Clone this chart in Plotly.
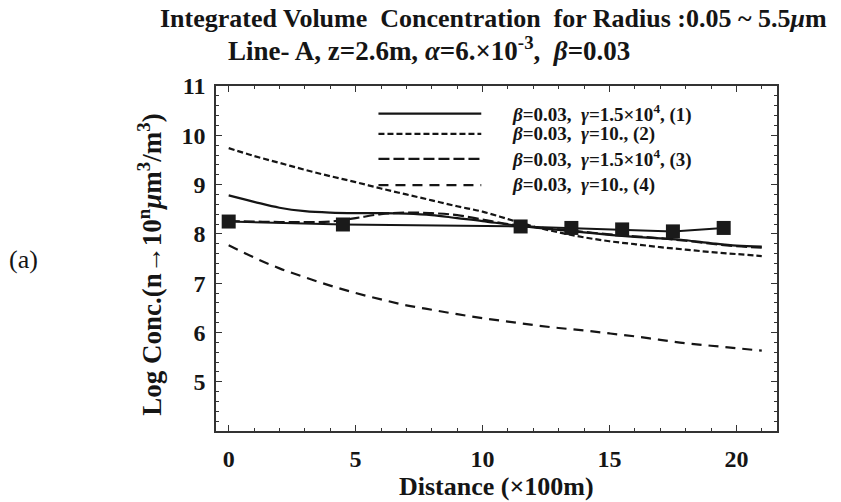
import plotly.graph_objects as go

# ---- data ----
distance = [0, 1, 2, 3, 4, 5, 6, 7, 8, 9, 10, 11, 12, 13, 14, 15, 16, 17, 18, 19, 20, 21]
curve1 = [8.78, 8.65, 8.53, 8.46, 8.43, 8.42, 8.42, 8.41, 8.38, 8.32, 8.26, 8.19,
          8.13, 8.08, 8.03, 7.98, 7.94, 7.91, 7.87, 7.81, 7.76, 7.74]
curve2 = [9.74, 9.58, 9.44, 9.30, 9.17, 9.05, 8.92, 8.80, 8.68, 8.56, 8.45, 8.30,
          8.15, 8.03, 7.93, 7.85, 7.79, 7.73, 7.68, 7.63, 7.59, 7.55]
curve3 = [8.26, 8.25, 8.24, 8.24, 8.25, 8.32, 8.40, 8.43, 8.42, 8.38, 8.29, 8.20,
          8.14, 8.09, 8.04, 7.99, 7.95, 7.91, 7.86, 7.80, 7.75, 7.72]
curve4 = [7.77, 7.52, 7.30, 7.12, 6.95, 6.80, 6.67, 6.55, 6.46, 6.37, 6.29, 6.22,
          6.15, 6.09, 6.04, 5.98, 5.92, 5.85, 5.78, 5.73, 5.68, 5.63]
meas_x = [0, 4.5, 11.5, 13.5, 15.5, 17.5, 19.5]
meas_y = [8.25, 8.19, 8.15, 8.12, 8.09, 8.05, 8.12]

legend_labels = [
    "<i>β</i>=0.03,  <i>γ</i>=1.5×10<sup>4</sup>, (1)",
    "<i>β</i>=0.03,  <i>γ</i>=10., (2)",
    "<i>β</i>=0.03,  <i>γ</i>=1.5×10<sup>4</sup>, (3)",
    "<i>β</i>=0.03,  <i>γ</i>=10., (4)",
]
dashes = ["solid", "6px,3px", "11px,4px", "10px,7px"]
x_ticks = [0, 5, 10, 15, 20]
y_ticks = [5, 6, 7, 8, 9, 10, 11]

FONT = "Liberation Serif"
INK = "#151515"

fig = go.Figure()
for ys, d in zip([curve1, curve2, curve3, curve4], dashes):
    fig.add_trace(go.Scatter(x=distance, y=ys, mode="lines",
                             line=dict(color=INK, width=2.2, dash=d, shape="spline"),
                             showlegend=False, hoverinfo="skip"))
fig.add_trace(go.Scatter(x=meas_x, y=meas_y, mode="lines+markers",
                         line=dict(color=INK, width=2),
                         marker=dict(symbol="square", size=14, color="#1a1a1a"),
                         showlegend=False, hoverinfo="skip"))

# custom legend (long line samples as in the original)
leg_rows = [10.44, 10.03, 9.52, 8.99]
for lab, d, yr in zip(legend_labels, dashes, leg_rows):
    fig.add_shape(type="line", xref="x", yref="y", x0=5.9, x1=9.95, y0=yr, y1=yr,
                  line=dict(color=INK, width=2.2, dash=d))
    fig.add_annotation(xref="x", yref="y", x=11.1, y=yr, text="<b>" + lab + "</b>",
                       showarrow=False, xanchor="left", yanchor="middle",
                       font=dict(family=FONT, size=19, color=INK))

axis_common = dict(showline=True, linecolor="#333", linewidth=1.5, mirror="allticks",
                   ticks="inside", ticklen=6, tickwidth=1.2, tickcolor="#333",
                   showgrid=False, zeroline=False,
                   tickfont=dict(family=FONT, size=24, color=INK, weight="bold"))
fig.update_xaxes(range=[-0.5, 21.6], tickvals=x_ticks, ticklabelstandoff=5,
                 minor=dict(ticks="inside", dtick=1, tick0=0, ticklen=3, tickcolor="#333"),
                 **axis_common)
fig.update_yaxes(range=[4, 11], tickvals=y_ticks, ticklabelstandoff=4,
                 minor=dict(ticks="inside", dtick=0.2, tick0=4, ticklen=3, tickcolor="#333"),
                 **axis_common)

anns = [
    dict(x=0.4955, y=1.197, text="<b>Integrated Volume  Concentration  for Radius :0.05 ~ 5.5<i>μ</i>m</b>",
         font=dict(family=FONT, size=26, color=INK)),
    dict(x=0.38, y=1.108, text="<b>Line- A, z=2.6m, <i>α</i>=6.×10<sup>-3</sup>,  <i>β</i>=0.03</b>",
         font=dict(family=FONT, size=27, color=INK)),
    dict(x=0.50, y=-0.162, text="<b>Distance (×100m)</b>",
         font=dict(family=FONT, size=26, color=INK)),
    dict(x=-0.117, y=0.483, text="<b>Log Conc.(n→10<sup>n</sup><i>μ</i>m<sup>3</sup>/m<sup>3</sup>)</b>",
         textangle=-90, font=dict(family=FONT, size=27, color=INK)),
    dict(x=-0.343, y=0.498, text="(a)", font=dict(family=FONT, size=26, color=INK)),
]
for a in anns:
    fig.add_annotation(xref="paper", yref="paper", showarrow=False,
                       xanchor="center", yanchor="middle", **a)

fig.update_layout(width=841, height=502, margin=dict(l=216, r=64, t=86, b=71),
                  paper_bgcolor="white", plot_bgcolor="white")
fig.write_html("out.html")
